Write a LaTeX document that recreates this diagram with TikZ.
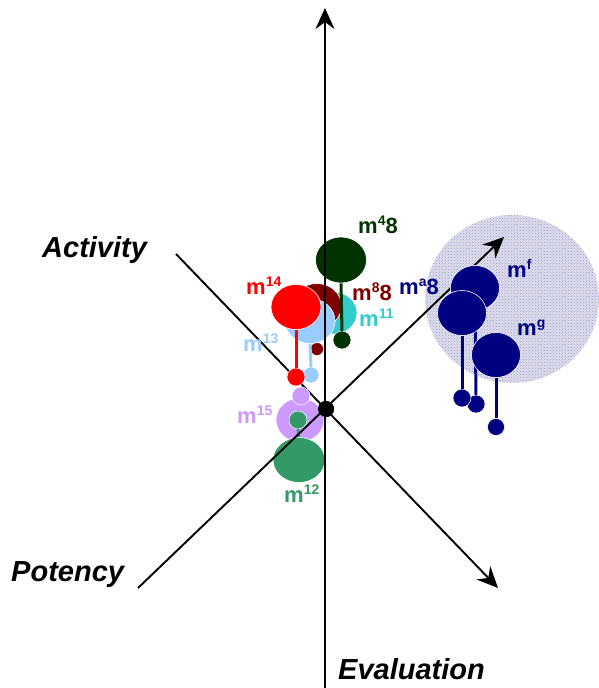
\documentclass[tikz,border=0pt]{standalone}
\usepackage{fontspec}
\setmainfont{Liberation Sans}
\usetikzlibrary{arrows.meta,shapes.geometric,patterns}
\definecolor{dgreen}{RGB}{0,51,0}
\definecolor{dred}{RGB}{128,0,0}
\definecolor{cyanb}{RGB}{51,204,204}
\definecolor{redb}{RGB}{255,0,0}
\definecolor{lblue}{RGB}{153,204,255}
\definecolor{purp}{RGB}{204,153,255}
\definecolor{sgreen}{RGB}{51,153,102}
\definecolor{navyb}{RGB}{0,0,128}
\definecolor{shade}{RGB}{222,222,236}
\definecolor{shadedot}{RGB}{150,150,200}
\newcommand\supm[2]{m\raisebox{8pt}{\fontsize{14}{14}\selectfont #1}#2}
\tikzset{
  ball/.style={ellipse, inner sep=0pt, draw=white, line width=0.6pt, minimum width=49pt, minimum height=45pt},
  dotb/.style={circle, inner sep=0pt, draw=white, line width=0.5pt, minimum size=18pt},
  axisline/.style={line width=1.9pt, -{Stealth[length=21pt,width=19pt,inset=7pt]}},
  axlab/.style={font=\fontsize{29}{29}\selectfont\bfseries\itshape, anchor=base west, inner sep=0pt},
  mlabel/.style={font=\fontsize{22}{22}\selectfont\bfseries, anchor=base west, inner sep=0pt},
  stem/.style={line width=3pt},
}
\begin{document}
\begin{tikzpicture}[x=1pt,y=-1pt]
\useasboundingbox (0,0) rectangle (599,688);
% shaded cluster
\node[ellipse, fill=shade, inner sep=0pt, minimum width=174pt, minimum height=168pt] (cloud) at (512,299) {};
\fill[pattern=crosshatch dots, pattern color=shadedot] (cloud.center) ellipse [x radius=87pt, y radius=84pt];
% axis end points
\coordinate (vb) at (325,688);
\coordinate (vt) at (325,8);
\coordinate (as) at (176,254);
\coordinate (ae) at (498,588);
\coordinate (ps) at (138,588);
\coordinate (pe) at (504,237);
\node[circle, fill=black, inner sep=0pt, minimum size=16pt] (o) at (326,409) {};
% Activity axis (under the balls)
\draw[axisline] (as) -- (ae);
% middle balls
\node[ball, fill=cyanb, minimum width=46pt, minimum height=42pt] (c11) at (334,313) {};
\node[ball, fill=dred] (r8) at (317,306) {};
\node[dotb, fill=dred, minimum size=13pt] (r8s) at (317,349) {};
\draw[stem, dred] (r8.south) -- (r8s.north);
\node[ball, fill=dgreen, minimum width=51pt, minimum height=46pt] (g4) at (341,260) {};
\node[dotb, fill=dgreen] (g4s) at (342,340) {};
\draw[stem, dgreen] (g4.south) -- (g4s.north);
\node[ball, fill=lblue, minimum width=50pt] (b13) at (310,321) {};
\node[dotb, fill=lblue, minimum size=16pt] (b13s) at (311,375) {};
\draw[stem, lblue] (b13.south) -- (b13s.north);
\node[ball, fill=redb, minimum width=50pt] (r14) at (296,307) {};
\node[dotb, fill=redb] (r14s) at (296,377) {};
\draw[stem, redb] (r14.south) -- (r14s.north);
\node[ball, fill=purp, minimum width=48pt, minimum height=44pt] (p15) at (300,420) {};
\node[dotb, fill=purp] (p15s) at (301,396) {};
\node[ball, fill=sgreen, minimum width=52pt, minimum height=45pt] (s12) at (299,460) {};
\node[dotb, fill=sgreen] (s12s) at (298,420) {};
\draw[stem, sgreen] (s12s.south) -- (s12.north);
% vertical and potency axes
\draw[axisline] (vb) -- (vt);
\draw[axisline] (ps) -- (pe);
\node[circle, fill=black, inner sep=0pt, minimum size=16pt] at (o) {};
% navy cluster
\node[ball, fill=navyb] (nf) at (475,288) {};
\node[dotb, fill=navyb] (nfs) at (476,404) {};
\draw[stem, navyb] (nf.south) -- (nfs.north);
\node[ball, fill=navyb] (na) at (462,313) {};
\node[dotb, fill=navyb] (nas) at (462,398) {};
\draw[stem, navyb] (na.south) -- (nas.north);
\node[ball, fill=navyb] (ng) at (496,355) {};
\node[dotb, fill=navyb, minimum size=17pt] (ngs) at (496,427) {};
\draw[stem, navyb] (ng.south) -- (ngs.north);
% axis labels
\node[axlab] (tact) at (42,257) {Activity};
\node[axlab] (tpot) at (11,581) {Potency};
\node[axlab] (teva) at (338,679) {Evaluation};
% point labels
\node[mlabel, text=dgreen] (l48) at (358,233) {\supm{4}{8}};
\node[mlabel, text=dred] (l88) at (352,300) {\supm{8}{8}};
\node[mlabel, text=cyanb] (l11) at (359,326) {\supm{11}{}};
\node[mlabel, text=redb] (l14) at (246,294) {\supm{14}{}};
\node[mlabel, text=lblue] (l13) at (243,351) {\supm{13}{}};
\node[mlabel, text=purp] (l15) at (237,423) {\supm{15}{}};
\node[mlabel, text=sgreen] (l12) at (284,502) {\supm{12}{}};
\node[mlabel, text=navyb] (la8) at (399,294) {\supm{a}{8}};
\node[mlabel, text=navyb] (lf) at (507,277) {\supm{f}{}};
\node[mlabel, text=navyb] (lg) at (517,335) {\supm{g}{}};
\end{tikzpicture}
\end{document}
